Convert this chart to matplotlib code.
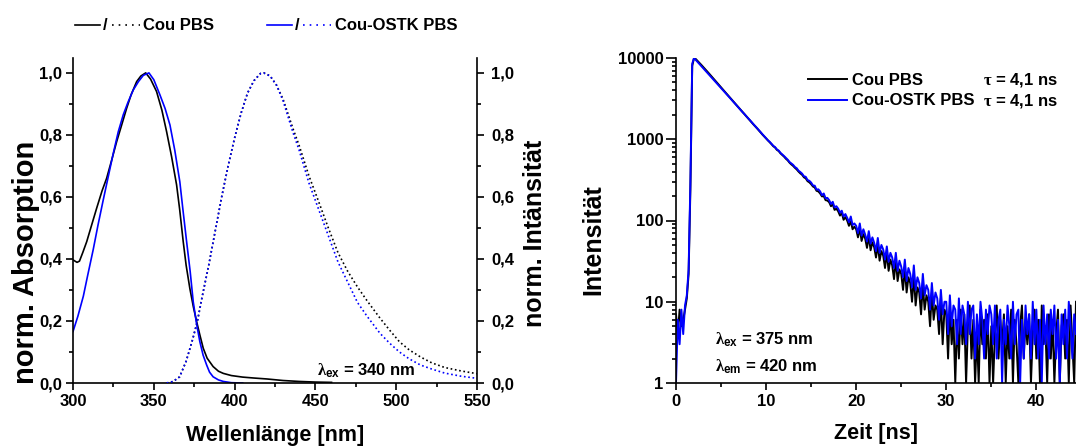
import numpy as np
import matplotlib.pyplot as plt
from matplotlib.lines import Line2D
from matplotlib.ticker import MultipleLocator, FixedLocator, LogLocator, NullFormatter, FuncFormatter

plt.rcParams['font.family'] = ['Liberation Sans', 'DejaVu Sans']
plt.rcParams['font.weight'] = 'bold'
plt.rcParams['axes.labelweight'] = 'bold'
plt.rcParams['mathtext.fontset'] = 'custom'
plt.rcParams['mathtext.rm'] = 'Liberation Sans:bold'
plt.rcParams['mathtext.bf'] = 'Liberation Sans:bold'
plt.rcParams['mathtext.it'] = 'Liberation Serif'

W, H = 1076, 446

# ---- absorption (normalised) ----
abs_cou_wl = [300, 302.5, 304, 306, 308.5, 311, 314.6, 318, 320.8, 324, 327, 330, 333.2, 336, 339.4,
              342, 345, 348, 351.7, 355, 357.9, 361, 364.1, 366, 368.2, 370, 372.3, 374.5, 376.5,
              378.5, 380.6, 383, 386.7, 390, 393, 398, 405, 412, 420, 430, 440, 450, 460]
abs_cou = [0.397, 0.389, 0.393, 0.42, 0.456, 0.50, 0.563, 0.62, 0.66, 0.72, 0.778, 0.83, 0.886, 0.93, 0.972,
           0.99, 1.0, 0.98, 0.94, 0.88, 0.811, 0.73, 0.639, 0.56, 0.456, 0.38, 0.305, 0.245, 0.198,
           0.155, 0.112, 0.08, 0.053, 0.038, 0.031, 0.024, 0.019, 0.016, 0.013, 0.008, 0.005, 0.003, 0.002]

abs_ostk_wl = [300, 303, 306.4, 309, 312.5, 315.5, 318.7, 322, 324.9, 328, 331.1, 334, 337.3, 340.5, 343.5,
               347, 350, 353.8, 357, 360, 363, 366.1, 368, 370.3, 372.5, 374.4, 376.5, 378.5, 380.5,
               382.7, 384.5, 386.7, 390, 393, 398, 405]
abs_ostk = [0.166, 0.215, 0.28, 0.345, 0.43, 0.51, 0.59, 0.67, 0.74, 0.81, 0.865, 0.905, 0.945, 0.972, 0.992,
            1.0, 0.978, 0.929, 0.885, 0.832, 0.75, 0.649, 0.56, 0.456, 0.36, 0.262, 0.19, 0.133, 0.09,
            0.058, 0.035, 0.02, 0.01, 0.005, 0.001, 0.0]

# ---- emission (normalised) ----
em_wl = [358, 362, 366, 370, 374, 377, 380, 384, 388, 392, 396, 400, 404, 408, 412, 416, 418, 422, 426,
         430, 436, 440, 446, 452, 458, 464, 470, 476, 482, 490, 496, 502, 508, 515, 522, 530, 540, 550]
em_cou = [0.0, 0.005, 0.02, 0.07, 0.14, 0.2, 0.28, 0.38, 0.49, 0.6, 0.7, 0.79, 0.87, 0.935, 0.975, 0.998, 1.0,
          0.99, 0.96, 0.915, 0.822, 0.765, 0.668, 0.585, 0.50, 0.42, 0.36, 0.31, 0.265, 0.209, 0.17, 0.133,
          0.107, 0.084, 0.065, 0.05, 0.039, 0.03]
em_ostk = [0.0, 0.005, 0.02, 0.07, 0.14, 0.2, 0.28, 0.38, 0.49, 0.6, 0.7, 0.79, 0.87, 0.935, 0.975, 0.998, 1.0,
           0.99, 0.96, 0.91, 0.81, 0.75, 0.645, 0.56, 0.475, 0.39, 0.325, 0.26, 0.215, 0.16, 0.128, 0.1,
           0.078, 0.058, 0.045, 0.032, 0.022, 0.015]

# ---- fluorescence decay, channels of 0.2 ns ----
dt = 0.2
decay_cou = [7, 4, 8, 5, 6,  8, 11, 22, 250, 8000,
             9950, 9700, 9200, 8720, 8250,  7800, 7380, 6960, 6570, 6200,
             5850, 5520, 5200, 4900, 4620,  4350, 4100, 3870, 3650, 3440,
             3240, 3050, 2880, 2720, 2570,  2420, 2280, 2150, 2030, 1920,
             1810, 1710, 1610, 1520, 1440,  1360, 1280, 1210, 1140, 1080,
             1020, 965, 915, 870, 820,  790, 740, 715, 670, 640,
             610, 575, 550, 515, 490,  470, 445, 425, 400, 380,
             365, 340, 330, 305, 295,  280, 262, 255, 232, 228,
             215, 198, 200, 178, 176,  168, 150, 158, 135, 140,
             130, 115, 124, 102, 110,  100, 86, 98, 78, 84,
             78, 62, 80, 56, 68,  60, 46, 64, 43, 54,
             47, 35, 50, 32, 42,  37, 26, 40, 24, 33,
             28, 19, 33, 18, 25,  22, 14, 26, 13, 20,
             17, 10, 21, 9, 15,  13, 7, 16, 8, 12,
             10, 5, 13, 6, 9,  8, 4, 11, 3, 8,
             7, 2, 9, 3, 6,  1, 6, 2, 8, 3,
             7, 1, 5, 9, 2,  6, 1, 4, 1, 8,
             3, 6, 2, 7, 1,  5, 1, 4, 9, 2,
             6, 3, 7, 1, 5,  2, 8, 1, 6, 3,
             1, 5, 9, 2, 6,  3, 7, 1, 4, 8,
             2, 6, 1, 9, 3,  5, 1, 7, 2, 6,
             1, 4, 8, 1, 5,  7, 2, 6, 1, 9,
             3, 1, 10]
decay_ostk = [1, 6, 3, 8, 4,  9, 12, 25, 300, 8500,
              10000, 9450, 8930, 8440, 7980,  7530, 7120, 6730, 6360, 6000,
              5670, 5360, 5060, 4780, 4520,  4270, 4030, 3810, 3600, 3400,
              3210, 3030, 2870, 2710, 2560,  2410, 2280, 2150, 2040, 1920,
              1820, 1720, 1620, 1530, 1450,  1370, 1290, 1220, 1150, 1090,
              1030, 970, 930, 880, 830,  800, 750, 725, 680, 650,
              620, 590, 560, 525, 505,  484, 455, 440, 410, 395,
              377, 350, 345, 315, 308,  293, 270, 268, 240, 242,
              228, 205, 215, 188, 190,  178, 160, 170, 145, 150,
              140, 125, 132, 112, 120,  108, 95, 112, 88, 92,
              86, 70, 92, 65, 78,  67, 55, 74, 52, 62,
              53, 42, 61, 40, 50,  44, 33, 48, 31, 40,
              35, 26, 40, 24, 32,  27, 20, 33, 18, 26,
              22, 15, 28, 14, 20,  17, 11, 22, 12, 16,
              14, 8, 17, 9, 13,  11, 6, 14, 7, 10,
              10, 4, 12, 5, 9,  8, 3, 11, 4, 9,
              7, 3, 10, 4, 8,  9, 2, 7, 3, 10,
              6, 2, 8, 4, 9,  7, 3, 9, 2, 6,
              8, 1, 6, 3, 9,  5, 2, 10, 3, 7,
              8, 1, 6, 2, 9,  4, 7, 2, 10, 3,
              8, 2, 6, 1, 9,  3, 7, 2, 8, 4,
              9, 2, 6, 1, 7,  3, 8, 2, 10, 5,
              2, 7, 4]
t_decay = np.arange(len(decay_cou)) * dt

labels = ["Cou PBS", "Cou-OSTK PBS"]
colors = ['k', '#0000ff']

comma = FuncFormatter(lambda v, p: ("%.1f" % v).replace('.', ','))


def style_ticks(ax):
    ax.tick_params(which='major', direction='out', length=5, width=1.2, labelsize=12, pad=3)
    ax.tick_params(which='minor', direction='out', length=3, width=1.2)
    for s in ax.spines.values():
        s.set_linewidth(1.2)


fig = plt.figure(figsize=(W / 100, H / 100), dpi=100)

# ---------- left panel ----------
ax1 = fig.add_axes([73 / W, 1 - 383 / H, 404 / W, 325 / H])
ax1.plot(abs_cou_wl, abs_cou, c=colors[0], lw=1.2)
ax1.plot(abs_ostk_wl, abs_ostk, c=colors[1], lw=1.2)
ax1.set_xlim(300, 550)
ax1.set_ylim(0, 1.048)
ax1.spines['top'].set_visible(False)
ax1.spines['right'].set_visible(False)
ax1.xaxis.set_major_locator(MultipleLocator(50))
ax1.xaxis.set_minor_locator(MultipleLocator(25))
ax1.yaxis.set_major_locator(MultipleLocator(0.2))
ax1.yaxis.set_minor_locator(MultipleLocator(0.1))
ax1.yaxis.set_major_formatter(comma)
style_ticks(ax1)
ax1.set_xlabel("Wellenlänge [nm]", fontsize=15.5, va='center')
ax1.xaxis.set_label_coords(0.5, (383 - 436) / 325)
ax1.set_ylabel("norm. Absorption", fontsize=21, va='center')
ax1.yaxis.set_label_coords((26 - 73) / 404, (383 - 262) / 325)

ax1b = ax1.twinx()
ax1b.plot(em_wl, em_cou, c=colors[0], lw=1.2, ls=(0, (1, 1.6)))
ax1b.plot(em_wl, em_ostk, c=colors[1], lw=1.2, ls=(0, (1, 1.6)))
ax1b.set_ylim(0, 1.048)
for k in ['top', 'left', 'bottom']:
    ax1b.spines[k].set_visible(False)
ax1b.yaxis.set_major_locator(MultipleLocator(0.2))
ax1b.yaxis.set_minor_locator(MultipleLocator(0.1))
ax1b.yaxis.set_major_formatter(comma)
style_ticks(ax1b)
ax1b.tick_params(axis='y', which='major', pad=5)
ax1b.set_ylabel("norm. Intänsität", fontsize=18, va='center', rotation=90)
ax1b.yaxis.set_label_coords((535 - 73) / 404, (383 - 233) / 325)

ax1.text(0.604, 0.037, r"$\lambda_{\mathrm{ex}}$ = 340 nm", transform=ax1.transAxes,
         fontsize=12, ha='left', va='center')

# top legend for the left panel: solid / dotted + name
for i, (x0, xs, xd, xt) in enumerate([(75, 105, 112, 143), (267, 297, 303, 335)]):
    y = 1 - 25 / H
    fig.add_artist(Line2D([x0 / W, (x0 + 25) / W], [y, y], transform=fig.transFigure, c=colors[i], lw=1.2))
    fig.text(xs / W, y, "/", fontsize=12, ha='center', va='center')
    fig.add_artist(Line2D([xd / W, (xd + 28) / W], [y, y], transform=fig.transFigure, c=colors[i], lw=1.2,
                          ls=(0, (1, 3))))
    fig.text(xt / W, y, labels[i], fontsize=12, ha='left', va='center')

# ---------- right panel ----------
ax2 = fig.add_axes([676 / W, 1 - 383 / H, 400 / W, 325 / H])
l1, = ax2.plot(t_decay, decay_cou, c=colors[0], lw=1.4, label=labels[0])
l2, = ax2.plot(t_decay, decay_ostk, c=colors[1], lw=1.4, label=labels[1])
ax2.set_yscale('log')
ax2.set_ylim(1, 10000)
ax2.set_xlim(0, 44.4)
ax2.spines['top'].set_visible(False)
ax2.spines['right'].set_visible(False)
ax2.xaxis.set_major_locator(MultipleLocator(10))
ax2.xaxis.set_minor_locator(MultipleLocator(5))
ax2.yaxis.set_major_locator(FixedLocator([1, 10, 100, 1000, 10000]))
ax2.yaxis.set_major_formatter(FuncFormatter(lambda v, p: "%d" % v))
ax2.yaxis.set_minor_locator(LogLocator(base=10, subs=range(2, 10)))
ax2.yaxis.set_minor_formatter(NullFormatter())
style_ticks(ax2)
ax2.tick_params(axis='y', which='major', length=7, pad=2)
ax2.set_xlabel("Zeit [ns]", fontsize=15.5, va='center')
ax2.xaxis.set_label_coords(0.5, (383 - 433) / 325)
ax2.set_ylabel("Intensität", fontsize=18, va='center')
ax2.yaxis.set_label_coords((593 - 676) / 400, (383 - 240) / 325)

ax2.legend([l1, l2], labels, loc='upper left', bbox_to_anchor=(0.33, 0.955), frameon=False,
           fontsize=12, handlelength=2.35, handletextpad=0.3, labelspacing=0.35,
           borderpad=0, borderaxespad=0)
for k, yy in enumerate([0.932, 0.868]):
    ax2.text(0.7675, yy, r"$\tau$ = 4,1 ns", transform=ax2.transAxes, fontsize=12, ha='left', va='center')

ax2.text(0.0975, 0.132, r"$\lambda_{\mathrm{ex}}$ = 375 nm", transform=ax2.transAxes,
         fontsize=12, ha='left', va='center')
ax2.text(0.0975, 0.049, r"$\lambda_{\mathrm{em}}$ = 420 nm", transform=ax2.transAxes,
         fontsize=12, ha='left', va='center')

fig.savefig("out.png", dpi=100)
